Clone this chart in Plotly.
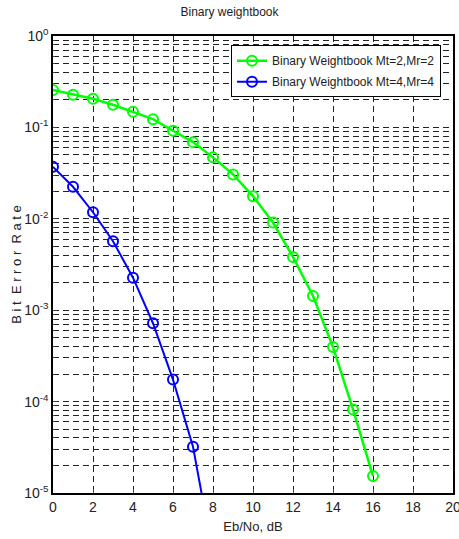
import plotly.graph_objects as go

snr_db = [0, 1, 2, 3, 4, 5, 6, 7, 8, 9, 10, 11, 12, 13, 14, 15, 16]
ber_mt2 = [0.256, 0.228, 0.206, 0.177, 0.148, 0.123, 0.092, 0.069, 0.047, 0.0306,
           0.0177, 0.0091, 0.00383, 0.00143, 0.000395, 8.2e-5, 1.53e-5]
snr_db_4 = [0, 1, 2, 3, 4, 5, 6, 7, 8]
ber_mt4 = [0.037, 0.0224, 0.0118, 0.00568, 0.00227, 0.00072, 0.000174, 3.2e-5, 2.1e-6]

ytick_vals = [1e-5, 1e-4, 1e-3, 1e-2, 1e-1, 1]
ytick_text = ["10<sup>-5</sup>", "10<sup>-4</sup>", "10<sup>-3</sup>", "10<sup>-2</sup>",
              "10<sup>-1</sup>", "10<sup>0</sup>"]
xtick_vals = [0, 2, 4, 6, 8, 10, 12, 14, 16, 18, 20]

FONT = "Liberation Sans, Arial"

fig = go.Figure()
fig.add_trace(go.Scatter(
    x=snr_db, y=ber_mt2, mode="lines+markers",
    name="Binary Weightbook Mt=2,Mr=2", legendgroup="a",
    line=dict(color="#00ff00", width=2.5),
    marker=dict(symbol="circle-open", size=10, color="#00ff00", line=dict(width=2)),
))
fig.add_trace(go.Scatter(
    x=snr_db_4, y=ber_mt4, mode="lines+markers",
    name="Binary Weightbook Mt=4,Mr=4", legendgroup="b",
    line=dict(color="#0000ff", width=2),
    marker=dict(symbol="circle-open", size=10, color="#0000ff", line=dict(width=2)),
))

grid_dash = "6px,4px"
fig.update_layout(
    width=459, height=539,
    margin=dict(l=53, r=6, t=36, b=46, autoexpand=False),
    paper_bgcolor="white", plot_bgcolor="white",
    font=dict(family=FONT, size=13, color="#222"),
    title=dict(text="Binary weightbook", x=0.5, xanchor="center", y=0.985, yanchor="top",
               font=dict(size=12, family=FONT, color="#222")),
    showlegend=True,
    legend=dict(x=0.445, y=0.98, xanchor="left", yanchor="top",
                bgcolor="white", bordercolor="black", borderwidth=1,
                font=dict(size=12, family=FONT, color="#222"),
                tracegroupgap=2),
    xaxis=dict(
        range=[0, 20], tickvals=xtick_vals, ticks="inside", ticklen=4,
        automargin=False, ticklabeloverflow="allow",
        showline=True, linecolor="black", linewidth=1.5, mirror=True,
        showgrid=True, gridcolor="#222", griddash=grid_dash, gridwidth=1,
        zeroline=False,
        title=dict(text="Eb/No, dB", standoff=8, font=dict(size=13, family=FONT)),
        tickfont=dict(size=14, family=FONT),
    ),
    yaxis=dict(
        type="log", range=[-5, 0], tickvals=ytick_vals, ticktext=ytick_text,
        ticks="inside", ticklen=4, automargin=False,
        showline=True, linecolor="black", linewidth=1.5, mirror=True,
        showgrid=True, gridcolor="#222", griddash=grid_dash, gridwidth=1,
        minor=dict(showgrid=True, dtick="D1", gridcolor="#222", griddash=grid_dash,
                   gridwidth=1, ticks="inside", ticklen=2),
        zeroline=False,
        title=dict(text="B i t  E r r o r  R a t e", standoff=0, font=dict(size=13, family=FONT)),
        tickfont=dict(size=14, family=FONT),
    ),
)

fig.write_html("out.html", config={"displayModeBar": False},
               post_script="document.body.style.margin='0';")
